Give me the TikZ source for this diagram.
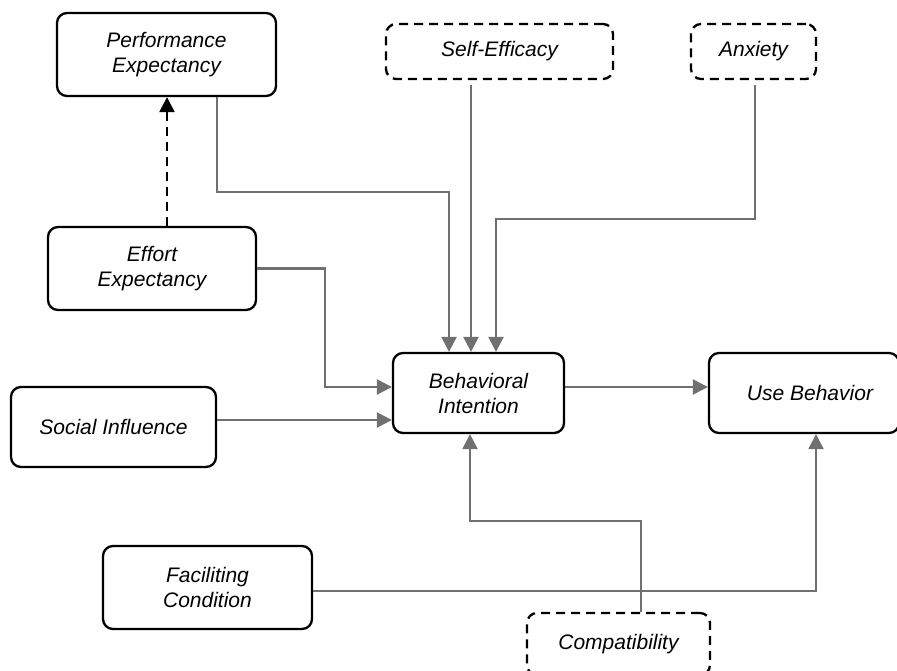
\documentclass[tikz,border=0pt]{standalone}
\usepackage{fontspec}
\setmainfont{Liberation Sans}
\usetikzlibrary{arrows.meta,calc}
\definecolor{conngray}{RGB}{112,112,112}
\begin{document}
\begin{tikzpicture}[x=1pt,y=-1pt,
  box/.style={draw=black,line width=2.3pt,rounded corners=10pt,align=center,inner sep=0pt,
    font=\fontsize{21}{25}\selectfont\itshape},
  dbox/.style={box,dash pattern=on 9pt off 6pt},
  conn/.style={draw=conngray,line width=2.4pt,-{Triangle[length=15pt,width=15pt]}},
  dconn/.style={draw=black,line width=2.4pt,dash pattern=on 9pt off 6pt,-{Triangle[length=15pt,width=15pt]}}]
\useasboundingbox (0,0) rectangle (897,670);
\clip (0,0) rectangle (897,670);
\fill[white] (0,0) rectangle (897,670);
\node[box,minimum width=219pt,minimum height=83pt] (PE) at (166.5,54.5) {Performance\\Expectancy};
\node[dbox,minimum width=227pt,minimum height=55pt] (SE) at (499.5,51.5) {Self-Efficacy};
\node[dbox,minimum width=125pt,minimum height=55pt] (AX) at (753.5,51.5) {Anxiety};
\node[box,minimum width=208pt,minimum height=83pt] (EE) at (152,268.5) {Effort\\Expectancy};
\node[box,minimum width=171pt,minimum height=80pt] (BI) at (478.5,393) {Behavioral\\Intention};
\node[box,minimum width=190pt,minimum height=80pt] (UB) at (804,393) {\hspace*{12pt}Use Behavior};
\node[box,minimum width=205pt,minimum height=80pt] (SI) at (113.5,427) {Social Influence};
\node[box,minimum width=209pt,minimum height=83pt] (FC) at (207.5,587.5) {Faciliting\\Condition};
\node[dbox,minimum width=183pt,minimum height=62pt] (CO) at (618.5,644) {Compatibility};

\draw[dconn] ([xshift=15pt]EE.north) -- ([xshift=0.5pt]PE.south);
\draw[conn] ([xshift=50.5pt]PE.south) -- ++(0,95) -| ([xshift=-29.5pt]BI.north);
\draw[conn] ([xshift=-28.5pt,yshift=-5pt]SE.south) -- ([xshift=-7.5pt]BI.north);
\draw[conn] ([xshift=1.5pt,yshift=-5pt]AX.south) -- ++(0,134) -| ([xshift=17.5pt]BI.north);
\draw[conn] (EE.east) -- ++(68,0) |- ([yshift=6pt]BI.west);
\draw[conn] ([yshift=7pt]SI.east) -- ([yshift=-27pt]BI.west);
\draw[conn] ([yshift=6pt]BI.east) -- ([yshift=6pt]UB.west);
\draw[conn] ([yshift=-3.5pt]FC.east) -| ([xshift=12pt]UB.south);
\draw[conn] ([xshift=22.5pt]CO.north) -- ++(0,-91) -| ([xshift=-8.5pt]BI.south);
\end{tikzpicture}
\end{document}
